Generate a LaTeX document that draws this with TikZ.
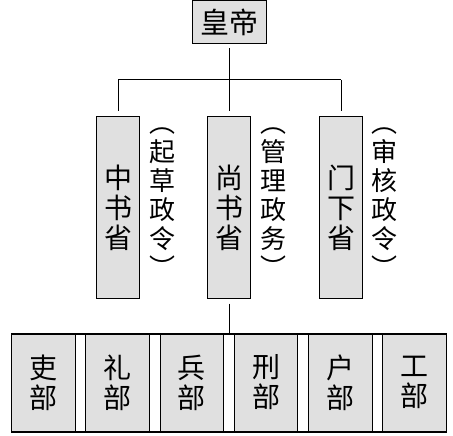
\documentclass[tikz,border=0pt]{standalone}
\usepackage{fontspec}
\newfontfamily\cjk{Noto Sans CJK SC}
\usepackage{tikz}
\usetikzlibrary{calc}
\definecolor{boxGray}{HTML}{E0E0E0}
\tikzset{
    office/.style={
        ,   draw=black
        ,   fill=boxGray
        ,   line width=1pt
        ,   inner sep=0pt
        ,   align=center
        ,   font=\cjk\fontsize{28}{30}\selectfont
    },
    dutyText/.style={
        ,   inner sep=0pt
        ,   align=center
        ,   font=\cjk\fontsize{26}{29}\selectfont
    },
    link/.style={
        ,   draw=black
        ,   line width=1pt
    }
}

\begin{document}
\begin{tikzpicture}[x=1pt, y=-1pt]
	\useasboundingbox (0,0) rectangle (453,436);

	% emperor on top
	\node[office, minimum width=74, minimum height=43, font=\cjk\fontsize{29}{30}\selectfont] (huangdi) at (229,22.5) {皇帝};

	% three departments
	\node[office, minimum width=43, minimum height=181] (zhongshu) at (118,207.5) {中\\书\\省};
	\node[office, minimum width=43, minimum height=181] (shangshu) at (229,207.5) {尚\\书\\省};
	\node[office, minimum width=43, minimum height=181] (menxia) at (341,207.5) {门\\下\\省};

	\node[dutyText] (zhongshuDuty) at (162,203) {︵\\起\\草\\政\\令\\︶};
	\node[dutyText] (shangshuDuty) at (273,203) {︵\\管\\理\\政\\务\\︶};
	\node[dutyText] (menxiaDuty) at (384,203) {︵\\审\\核\\政\\令\\︶};

	\coordinate (bar) at (229,80);
	\draw[link, shorten <=4pt] (huangdi) -- (huangdi |- bar);
	\draw[link] (zhongshu |- bar) -- (menxia |- bar);
	\foreach \n in {zhongshu,shangshu,menxia}{
	\draw[link, shorten >=5pt] (\n |- bar) -- (\n);
	}

	% six ministries
	\foreach \name [count=\i] in {吏,礼,兵,刑,户,工}{
	\node[office, minimum width=63.5, minimum height=97] (bu\i) at ({43.5+74.2*(\i-1)},382.5) {\name\\部};
	}
	\draw[line width=2pt] (bu1.north west) -- (bu6.north east);
	\draw[line width=2pt] (bu1.south west) -- (bu6.south east);
	\draw[link, shorten <=5pt] (shangshu) -- (shangshu |- bu1.north);
\end{tikzpicture}
\end{document}
